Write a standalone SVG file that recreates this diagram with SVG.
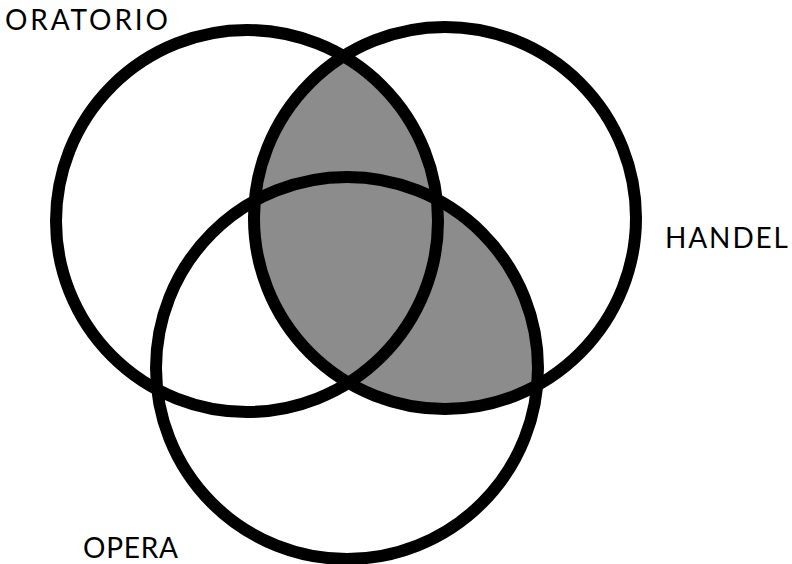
<svg xmlns="http://www.w3.org/2000/svg" width="792" height="564" viewBox="0 0 792 564">
  <style>
    .ring { fill: none; stroke: #000; stroke-width: 12; }
    .shade { fill: #8c8c8c; stroke: none; }
    .lbl { font-family: "Lato", "Liberation Sans", sans-serif; font-size: 28px; fill: #000; }
  </style>
  <defs>
    <clipPath id="clipHandel">
      <circle cx="445" cy="218" r="191"/>
    </clipPath>
  </defs>
  <rect width="792" height="564" fill="#fff"/>
  <g id="shading" clip-path="url(#clipHandel)">
    <circle class="shade" cx="247" cy="221" r="191"/>
    <circle class="shade" cx="347" cy="368" r="191"/>
  </g>
  <g id="oratorio">
    <circle class="ring" cx="247" cy="221" r="191"/>
    <text class="lbl" x="5" y="30" textLength="163" lengthAdjust="spacing">ORATORIO</text>
  </g>
  <g id="handel">
    <circle class="ring" cx="445" cy="218" r="191"/>
    <text class="lbl" x="665" y="248" textLength="123" lengthAdjust="spacing">HANDEL</text>
  </g>
  <g id="opera">
    <circle class="ring" cx="347" cy="368" r="191"/>
    <text class="lbl" x="83" y="558" textLength="95" lengthAdjust="spacing">OPERA</text>
  </g>
  <g id="connectors"/>
</svg>
